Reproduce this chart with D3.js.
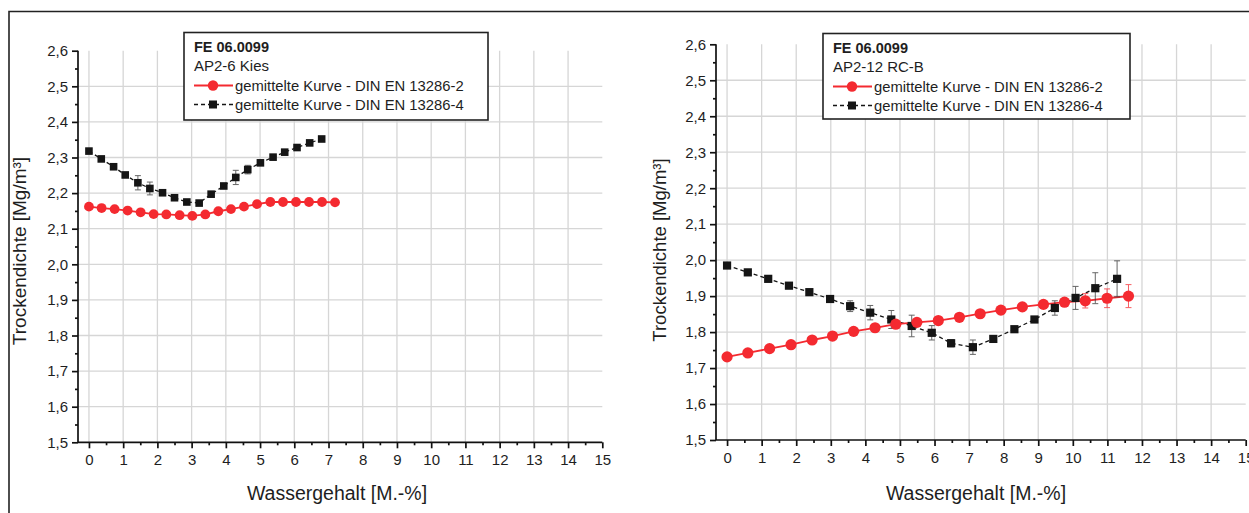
<!DOCTYPE html>
<html><head><meta charset="utf-8">
<script src="https://cdn.jsdelivr.net/npm/d3@7"></script>
<style>body{margin:0;background:#fff}svg{display:block;font-family:"Liberation Sans",Arial,sans-serif}</style>
</head><body><svg id="c" width="1249" height="513"></svg>
<script>
// ---- data ----
const xTicks = [0,1,2,3,4,5,6,7,8,9,10,11,12,13,14,15];
const yTicks = [1.5,1.6,1.7,1.8,1.9,2.0,2.1,2.2,2.3,2.4,2.5,2.6];
const legendTitle = "FE 06.0099";
const seriesNames = ["gemittelte Kurve - DIN EN 13286-2","gemittelte Kurve - DIN EN 13286-4"];
const xLabel = "Wassergehalt [M.-%]";
const yLabel = "Trockendichte [Mg/m³]";

// Panel 1: AP2-6 Kies
const p1Name = "AP2-6 Kies";
const p1RedX = [0,0.37,0.75,1.13,1.51,1.89,2.26,2.65,3.02,3.4,3.78,4.15,4.53,4.91,5.3,5.67,6.05,6.43,6.81,7.19];
const p1RedY = [2.162,2.158,2.155,2.151,2.146,2.141,2.140,2.138,2.136,2.140,2.149,2.155,2.162,2.169,2.175,2.175,2.175,2.175,2.175,2.174];
const p1RedErr = [0.003,0.003,0.003,0.003,0.003,0.003,0.003,0.003,0.003,0.003,0.003,0.003,0.003,0.003,0.003,0.003,0.003,0.003,0.003,0.003];
const p1BlkX = [0,0.36,0.72,1.06,1.43,1.78,2.15,2.5,2.86,3.22,3.57,3.94,4.29,4.64,5.01,5.38,5.72,6.08,6.45,6.8];
const p1BlkY = [2.318,2.296,2.274,2.251,2.229,2.213,2.201,2.187,2.175,2.172,2.197,2.220,2.244,2.266,2.285,2.301,2.315,2.328,2.341,2.352];
const p1BlkErr = [0.004,0.004,0.004,0.006,0.02,0.018,0.008,0.004,0.004,0.004,0.004,0.006,0.02,0.012,0.005,0.004,0.004,0.004,0.004,0.004];

// Panel 2: AP2-12 RC-B
const p2Name = "AP2-12 RC-B";
const p2RedX = [0,0.6,1.23,1.85,2.46,3.05,3.66,4.28,4.88,5.49,6.11,6.72,7.32,7.92,8.54,9.15,9.76,10.36,10.99,11.61];
const p2RedY = [1.731,1.742,1.754,1.765,1.778,1.789,1.802,1.812,1.822,1.827,1.832,1.841,1.851,1.861,1.870,1.877,1.883,1.887,1.894,1.900];
const p2RedErr = [0.004,0.004,0.004,0.004,0.004,0.004,0.004,0.004,0.004,0.004,0.004,0.004,0.004,0.004,0.004,0.004,0.005,0.02,0.026,0.032];
const p2BlkX = [0,0.6,1.19,1.79,2.38,2.98,3.56,4.14,4.75,5.34,5.92,6.48,7.11,7.7,8.31,8.89,9.48,10.08,10.65,11.28];
const p2BlkY = [1.985,1.966,1.948,1.929,1.911,1.892,1.872,1.854,1.835,1.817,1.798,1.769,1.758,1.781,1.808,1.835,1.867,1.895,1.922,1.948];
const p2BlkErr = [0.004,0.004,0.004,0.004,0.004,0.006,0.015,0.02,0.025,0.03,0.02,0.01,0.02,0.006,0.004,0.006,0.02,0.032,0.043,0.05];

// ---- drawing ----
const svg = d3.select("#c");
const RED = "#f42a30", BLK = "#151515", TXT = "#1e1e1e";

// outer frame
svg.append("path").attr("d","M9,513 L9,11.5 L1249,11.5").attr("fill","none").attr("stroke","#222").attr("stroke-width",1.6);

function panel(o, d){
  const x = d3.scaleLinear().domain([-0.32,15]).range([o.x0,o.x1]);
  const y = d3.scaleLinear().domain([1.5,2.6]).range([o.y0,o.y1]);
  const g = svg.append("g");
  // grid
  g.selectAll(".vg").data(xTicks.filter(t=>t<15)).join("line")
    .attr("x1",t=>x(t)).attr("x2",t=>x(t)).attr("y1",y(1.5)).attr("y2",y(2.6))
    .attr("stroke","#d6d6d6").attr("stroke-width",1.3);
  g.selectAll(".hg").data(yTicks.filter(t=>t>1.5 && t<2.6)).join("line")
    .attr("x1",o.x0).attr("x2",x(15)).attr("y1",t=>y(t)).attr("y2",t=>y(t))
    .attr("stroke","#d6d6d6").attr("stroke-width",1.3);
  // axes
  const xa = g.append("g").attr("transform",`translate(0,${o.y0})`)
    .call(d3.axisBottom(x).tickValues(xTicks).tickSize(6).tickPadding(6).tickFormat(d3.format("d")));
  const xm = g.append("g").attr("transform",`translate(0,${o.y0})`)
    .call(d3.axisBottom(x).tickValues(xTicks.slice(0,-1).map(t=>t+0.5)).tickSize(3).tickFormat(""));
  xm.select(".domain").remove();
  const ya = g.append("g").attr("transform",`translate(${o.x0},0)`)
    .call(d3.axisLeft(y).tickValues(yTicks).tickSize(6).tickPadding(4).tickFormat(v=>d3.format(".1f")(v).replace(".",",")));
  const ym = g.append("g").attr("transform",`translate(${o.x0},0)`)
    .call(d3.axisLeft(y).tickValues(yTicks.slice(0,-1).map(t=>t+0.05)).tickSize(3).tickFormat(""));
  ym.select(".domain").remove();
  [xa,ya,xm,ym].forEach(a=>{a.selectAll("path,line").attr("stroke","#111").attr("stroke-width",1.7);
    a.selectAll("text").attr("font-size",15).attr("fill",TXT).attr("font-family","Liberation Sans, Arial, sans-serif");});
  xa.select(".domain").attr("d",`M${o.x0},0H${x(15)}`);
  ya.select(".domain").attr("d",`M0,${o.y0}V${o.y1}`);
  // titles
  g.append("text").attr("x",o.xtX).attr("y",o.xtY).attr("text-anchor","middle").attr("font-size",19.5).attr("fill",TXT).text(xLabel);
  g.append("text").attr("transform",`translate(${o.ytX},${o.ytY}) rotate(-90)`).attr("text-anchor","middle").attr("font-size",o.ytS).attr("fill",TXT).text(yLabel);

  const blk = d.blkX.map((v,i)=>({x:v,y:d.blkY[i],e:d.blkErr[i]}));
  const red = d.redX.map((v,i)=>({x:v,y:d.redY[i],e:d.redErr[i]}));
  const line = d3.line().x(p=>x(p.x)).y(p=>y(p.y));
  g.append("path").datum(blk).attr("d",line).attr("fill","none").attr("stroke",BLK).attr("stroke-width",1.3).attr("stroke-dasharray","4,3");
  g.append("path").datum(red).attr("d",line).attr("fill","none").attr("stroke",RED).attr("stroke-width",1.8);
  function errs(arr,col){
    const eg = g.append("g").attr("stroke",col).attr("stroke-width",1).attr("opacity",0.75);
    arr.forEach(p=>{
      const a=y(p.y+p.e), b=y(p.y-p.e), cx=x(p.x);
      eg.append("line").attr("x1",cx).attr("x2",cx).attr("y1",a).attr("y2",b);
      eg.append("line").attr("x1",cx-3).attr("x2",cx+3).attr("y1",a).attr("y2",a);
      eg.append("line").attr("x1",cx-3).attr("x2",cx+3).attr("y1",b).attr("y2",b);
    });
  }
  errs(blk,"#333");
  errs(red,RED);
  const s = o.sq;
  g.selectAll(".sq").data(blk).join("rect").attr("x",p=>x(p.x)-s/2).attr("y",p=>y(p.y)-s/2)
    .attr("width",s).attr("height",s).attr("fill",BLK);
  g.selectAll(".ci").data(red).join("circle").attr("cx",p=>x(p.x)).attr("cy",p=>y(p.y)).attr("r",o.r).attr("fill",RED);

  // legend
  const L = o.leg;
  const lg = g.append("g");
  lg.append("rect").attr("x",L.x).attr("y",L.y).attr("width",L.w).attr("height",L.h).attr("fill","#fff").attr("stroke","#222").attr("stroke-width",1.6);
  const tx = L.x+10;
  lg.append("text").attr("x",tx).attr("y",L.y+19).attr("font-size",14.5).attr("font-weight","bold").attr("fill",TXT).text(legendTitle);
  lg.append("text").attr("x",tx).attr("y",L.y+38.5).attr("font-size",15).attr("fill",TXT).text(d.name);
  const r1 = L.y+53, r2 = L.y+72;
  lg.append("line").attr("x1",tx).attr("x2",tx+39).attr("y1",r1).attr("y2",r1).attr("stroke",RED).attr("stroke-width",1.8);
  lg.append("circle").attr("cx",tx+19).attr("cy",r1).attr("r",5.2).attr("fill",RED);
  lg.append("line").attr("x1",tx).attr("x2",tx+39).attr("y1",r2).attr("y2",r2).attr("stroke",BLK).attr("stroke-width",1.3).attr("stroke-dasharray","4,3");
  lg.append("rect").attr("x",tx+19-4).attr("y",r2-4).attr("width",8).attr("height",8).attr("fill",BLK);
  lg.append("text").attr("x",tx+41).attr("y",r1+5).attr("font-size",14.8).attr("fill",TXT).text(seriesNames[0]);
  lg.append("text").attr("x",tx+41).attr("y",r2+5).attr("font-size",14.8).attr("fill",TXT).text(seriesNames[1]);
}

panel({x0:78,x1:602.3,y0:442.3,y1:50.7,xtX:337,xtY:500,ytX:26,ytY:251,ytS:19,r:4.9,sq:7.6,
       leg:{x:184,y:32.5,w:304,h:87.5}},
      {name:p1Name,redX:p1RedX,redY:p1RedY,redErr:p1RedErr,blkX:p1BlkX,blkY:p1BlkY,blkErr:p1BlkErr});
panel({x0:716,x1:1245.7,y0:440,y1:44.3,xtX:976,xtY:500,ytX:666,ytY:250,ytS:18.5,r:5.6,sq:8.2,
       leg:{x:823,y:33.5,w:307,h:85.5}},
      {name:p2Name,redX:p2RedX,redY:p2RedY,redErr:p2RedErr,blkX:p2BlkX,blkY:p2BlkY,blkErr:p2BlkErr});
</script></body></html>
